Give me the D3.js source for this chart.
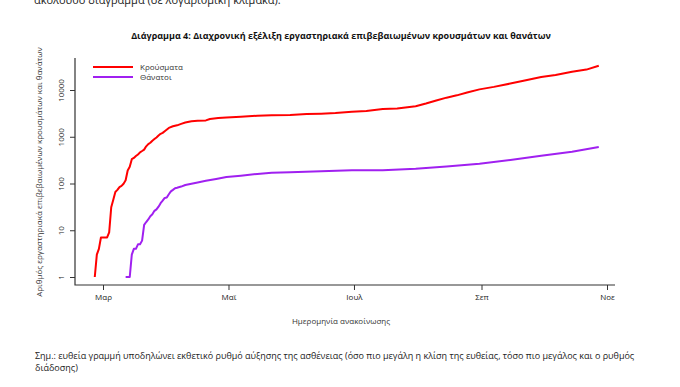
<!DOCTYPE html>
<html lang="el">
<head>
<meta charset="utf-8">
<title>Διάγραμμα 4</title>
<script src="https://d3js.org/d3.v7.min.js"></script>
<style>
  body { margin: 0; background: #fff; }
  text { font-family: "Open Sans", "Noto Sans", sans-serif; fill: #222; }
</style>
</head>
<body>
<div id="chart"></div>
<script>
// cumulative confirmed cases
var caseDates = ["2020-02-26","2020-02-27","2020-02-28","2020-02-29","2020-03-03","2020-03-04","2020-03-05","2020-03-06","2020-03-07","2020-03-08","2020-03-09","2020-03-10","2020-03-11","2020-03-12","2020-03-13","2020-03-14","2020-03-15","2020-03-16","2020-03-17","2020-03-18","2020-03-19","2020-03-20","2020-03-21","2020-03-22","2020-03-23","2020-03-24","2020-03-25","2020-03-26","2020-03-27","2020-03-28","2020-03-29","2020-03-30","2020-03-31","2020-04-02","2020-04-04","2020-04-06","2020-04-08","2020-04-10","2020-04-13","2020-04-16","2020-04-20","2020-04-22","2020-04-26","2020-04-30","2020-05-07","2020-05-15","2020-05-22","2020-05-31","2020-06-08","2020-06-15","2020-06-22","2020-06-30","2020-07-07","2020-07-15","2020-07-22","2020-07-31","2020-08-05","2020-08-10","2020-08-15","2020-08-20","2020-08-25","2020-08-31","2020-09-07","2020-09-15","2020-09-22","2020-09-30","2020-10-07","2020-10-15","2020-10-22","2020-10-28"];
var caseValues = [1,3,4,7,7,9,31,45,66,73,84,89,99,117,190,228,331,352,387,418,464,495,530,624,695,743,821,892,966,1061,1156,1212,1314,1544,1673,1755,1884,2011,2145,2192,2235,2401,2517,2591,2678,2819,2873,2917,3049,3121,3203,3409,3562,3910,4007,4477,5123,5942,6858,7684,8819,10317,11663,13730,15928,18886,20947,24481,27334,33000];

// cumulative deaths
var deathDates = ["2020-03-12","2020-03-14","2020-03-15","2020-03-16","2020-03-17","2020-03-18","2020-03-19","2020-03-20","2020-03-21","2020-03-22","2020-03-23","2020-03-24","2020-03-25","2020-03-26","2020-03-27","2020-03-28","2020-03-29","2020-03-30","2020-03-31","2020-04-01","2020-04-02","2020-04-03","2020-04-04","2020-04-05","2020-04-06","2020-04-08","2020-04-10","2020-04-13","2020-04-16","2020-04-20","2020-04-25","2020-04-30","2020-05-07","2020-05-15","2020-05-22","2020-05-31","2020-06-15","2020-06-30","2020-07-15","2020-07-31","2020-08-15","2020-08-31","2020-09-15","2020-09-30","2020-10-15","2020-10-28"];
var deathValues = [1,1,3,4,4,5,5,6,13,15,17,20,22,26,28,32,38,43,49,50,59,68,73,79,81,86,93,99,105,114,125,138,147,160,169,175,183,192,193,206,230,263,317,391,478,603];

var xTickDates = ["2020-03-01","2020-05-01","2020-07-01","2020-09-01","2020-11-01"];
var xTickLabels = ["Μαρ","Μαϊ","Ιουλ","Σεπ","Νοε"];
var yTicks = [1,10,100,1000,10000];
var seriesNames = ["Κρούσματα","Θάνατοι"];
var seriesColors = ["#ff0000","#a020f0"];

var W = 680, H = 387;
var frame = {left: 75, right: 615, top: 58, bottom: 285};

var parse = d3.timeParse("%Y-%m-%d");

var svg = d3.select("#chart").append("svg")
    .attr("width", W).attr("height", H);

var x = d3.scaleTime()
    .domain([parse(xTickDates[0]), parse(xTickDates[4])])
    .range([103, 607]);

var y = d3.scaleLog()
    .domain([1, 10000])
    .range([277, 90]);

// cut-off line of text above the figure
svg.append("text").attr("x", 34).attr("y", 3.5)
    .style("font-size", "11px")
    .text("ακόλουθο διάγραμμα (σε λογαριθμική κλίμακα).");

svg.append("text").attr("x", 341).attr("y", 39)
    .attr("text-anchor", "middle")
    .style("font-size", "9px").style("font-weight", "bold").style("fill", "#111")
    .text("Διάγραμμα 4: Διαχρονική εξέλιξη εργαστηριακά επιβεβαιωμένων κρουσμάτων και θανάτων");

// L-shaped frame
svg.append("path")
    .attr("d", "M" + frame.left + "," + frame.top + "V" + frame.bottom + "H" + frame.right)
    .attr("fill", "none").attr("stroke", "#333").attr("stroke-width", 1.2);

var xAxis = svg.append("g")
    .attr("transform", "translate(0," + frame.bottom + ")")
    .call(d3.axisBottom(x)
        .tickValues(xTickDates.map(parse))
        .tickFormat(function(d, i) { return xTickLabels[i]; })
        .tickSize(5).tickPadding(4));
xAxis.select(".domain").remove();
xAxis.selectAll("line").attr("stroke", "#333");
xAxis.selectAll("text").style("font-size", "8px").style("font-family", "'Open Sans', sans-serif").attr("fill", "#333");

var yAxis = svg.append("g")
    .attr("transform", "translate(" + frame.left + ",0)")
    .call(d3.axisLeft(y)
        .tickValues(yTicks)
        .tickFormat(d3.format("d"))
        .tickSize(5).tickPadding(4));
yAxis.select(".domain").remove();
yAxis.selectAll("line").attr("stroke", "#333");
yAxis.selectAll("text")
    .style("font-size", "8px").style("font-family", "'Open Sans', sans-serif").attr("fill", "#333")
    .attr("text-anchor", "middle")
    .attr("x", -14).attr("dy", 0)
    .attr("transform", function() { return "rotate(-90," + (-14) + ",0)"; })
    .attr("y", 3);

var line = d3.line()
    .x(function(d) { return x(d.date); })
    .y(function(d) { return y(d.value); });

var cases = caseDates.map(function(d, i) { return {date: parse(d), value: caseValues[i]}; });
var deaths = deathDates.map(function(d, i) { return {date: parse(d), value: deathValues[i]}; });

[cases, deaths].forEach(function(s, i) {
    svg.append("path").datum(s)
        .attr("d", line)
        .attr("fill", "none")
        .attr("stroke", seriesColors[i])
        .attr("stroke-width", 2)
        .attr("stroke-linejoin", "round");
});

// legend
seriesNames.forEach(function(n, i) {
    var ly = 67 + i * 10;
    svg.append("line").attr("x1", 93).attr("x2", 133).attr("y1", ly).attr("y2", ly)
        .attr("stroke", seriesColors[i]).attr("stroke-width", 2);
    svg.append("text").attr("x", 140).attr("y", ly + 3)
        .style("font-size", "8px").style("fill", "#333").text(n);
});

svg.append("text")
    .attr("transform", "translate(42,172) rotate(-90)")
    .attr("text-anchor", "middle")
    .style("font-size", "8px").style("fill", "#333")
    .text("Αριθμός εργαστηριακά επιβεβαιωμένων κρουσμάτων και θανάτων");

svg.append("text").attr("x", 341).attr("y", 324)
    .attr("text-anchor", "middle")
    .style("font-size", "8px").style("fill", "#333")
    .text("Ημερομηνία ανακοίνωσης");

svg.append("text").attr("x", 35).attr("y", 359)
    .style("font-size", "9px").style("font-family", "'Liberation Sans Narrow', 'Open Sans', sans-serif")
    .text("Σημ.: ευθεία γραμμή υποδηλώνει εκθετικό ρυθμό αύξησης της ασθένειας (όσο πιο μεγάλη η κλίση της ευθείας, τόσο πιο μεγάλος και ο ρυθμός");
svg.append("text").attr("x", 35).attr("y", 371)
    .style("font-size", "9px").style("font-family", "'Liberation Sans Narrow', 'Open Sans', sans-serif")
    .text("διάδοσης)");
</script>
</body>
</html>
